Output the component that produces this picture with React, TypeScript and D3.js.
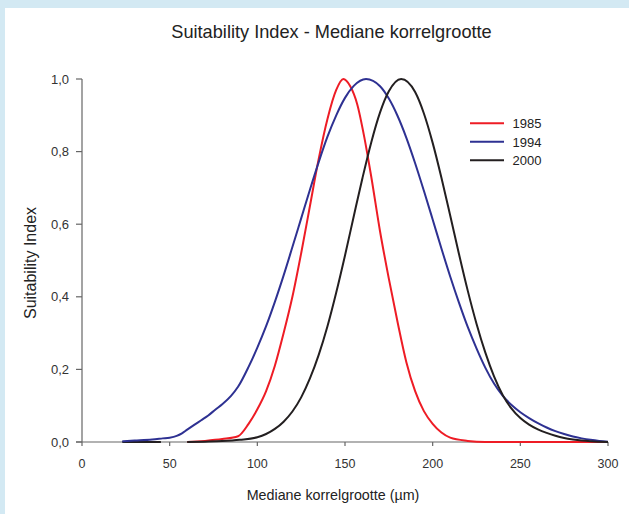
import React from "react";
import * as d3 from "d3";

const W = 629;
const H = 514;

const xTicks = [0, 50, 100, 150, 200, 250, 300];
const yTicks = [0, 0.2, 0.4, 0.6, 0.8, 1.0];
const yTickLabels = ["0,0", "0,2", "0,4", "0,6", "0,8", "1,0"];

// 1985
const x1985 = [60, 70, 80, 89, 95, 100, 105, 110, 115, 120, 125, 130, 135, 140, 145, 149, 153, 157, 161, 165, 170, 175, 180, 185, 190, 195, 200, 205, 210, 220, 230, 300];
const y1985 = [0, 0.003, 0.008, 0.016, 0.05, 0.09, 0.14, 0.21, 0.3, 0.4, 0.52, 0.65, 0.78, 0.89, 0.97, 1.0, 0.98, 0.93, 0.84, 0.73, 0.58, 0.45, 0.33, 0.22, 0.14, 0.085, 0.05, 0.026, 0.012, 0.003, 0, 0];

// 1994
const x1994 = [23, 30, 40, 46, 50, 54, 57, 60, 64, 68, 72, 76, 80, 85, 89, 95, 100, 105, 110, 115, 120, 125, 130, 135, 140, 145, 150, 155, 162, 170, 175, 180, 185, 190, 195, 200, 205, 210, 215, 220, 225, 230, 235, 240, 245, 250, 255, 260, 265, 270, 275, 280, 285, 290, 295, 300];
const y1994 = [0.002, 0.004, 0.007, 0.01, 0.012, 0.017, 0.024, 0.034, 0.047, 0.06, 0.073, 0.089, 0.104, 0.127, 0.152, 0.207, 0.26, 0.319, 0.386, 0.459, 0.537, 0.616, 0.695, 0.771, 0.841, 0.9, 0.948, 0.981, 1.0, 0.98, 0.946, 0.898, 0.838, 0.768, 0.692, 0.613, 0.533, 0.456, 0.384, 0.317, 0.258, 0.205, 0.161, 0.127, 0.102, 0.082, 0.066, 0.052, 0.04, 0.03, 0.022, 0.015, 0.01, 0.006, 0.003, 0.001];

// 2000
const x2000 = [60, 70, 80, 90, 100, 105, 110, 115, 120, 125, 130, 135, 140, 145, 150, 155, 160, 165, 170, 175, 182, 190, 195, 200, 205, 210, 215, 220, 225, 230, 235, 240, 245, 250, 255, 260, 265, 270, 275, 280, 285, 290, 300];
const y2000 = [0, 0.001, 0.0025, 0.006, 0.013, 0.022, 0.036, 0.056, 0.084, 0.123, 0.175, 0.24, 0.319, 0.412, 0.514, 0.622, 0.728, 0.826, 0.908, 0.966, 1.0, 0.964, 0.905, 0.824, 0.728, 0.624, 0.518, 0.417, 0.326, 0.247, 0.181, 0.129, 0.092, 0.066, 0.048, 0.035, 0.025, 0.017, 0.011, 0.007, 0.004, 0.002, 0];
const x2000Base = [23, 45];
const y2000Base = [0, 0];

const seriesNames = ["1985", "1994", "2000"];
const seriesColors = ["#ee1c25", "#2e3192", "#231f20"];

export default function App() {
  const x = d3.scaleLinear().domain([0, 300]).range([82, 608]);
  const y = d3.scaleLinear().domain([0, 1]).range([442, 79]);
  const line = d3
    .line<[number, number]>()
    .x((d) => x(d[0]))
    .y((d) => y(d[1]))
    .curve(d3.curveMonotoneX);
  const zip = (xs: number[], ys: number[]) => xs.map((v, i) => [v, ys[i]] as [number, number]);
  const series = [zip(x1985, y1985), zip(x1994, y1994), zip(x2000, y2000)];
  const font = "Liberation Sans, Arial, sans-serif";
  return (
    <svg width={W} height={H} style={{ position: "absolute", left: 0, top: 0 }} fontFamily={font}>
      <rect x={0} y={0} width={W} height={H} fill="#d3e9f3" />
      <rect x={5} y={8} width={W - 5} height={H - 8} fill="#ffffff" />
      <text x={331.5} y={37.5} textAnchor="middle" fontSize={18.2} fill="#222">
        Suitability Index - Mediane korrelgrootte
      </text>
      {/* axes */}
      <line x1={76} x2={x(300)} y1={y(0)} y2={y(0)} stroke="#666" strokeWidth={1.2} />
      <line x1={x(0)} x2={x(0)} y1={y(1)} y2={y(0)} stroke="#666" strokeWidth={1.2} />
      {yTicks.map((t, i) => (
        <g key={"y" + i}>
          <line x1={76} x2={x(0)} y1={y(t)} y2={y(t)} stroke="#666" strokeWidth={1.2} />
          <text x={69} y={y(t) + 4.5} textAnchor="end" fontSize={13} fill="#333">
            {yTickLabels[i]}
          </text>
        </g>
      ))}
      {xTicks.map((t, i) => (
        <g key={"x" + i}>
          <line x1={x(t)} x2={x(t)} y1={y(0)} y2={y(0) + 4} stroke="#666" strokeWidth={1.2} />
          <text x={x(t)} y={468} textAnchor="middle" fontSize={12.5} fill="#333">
            {t}
          </text>
        </g>
      ))}
      <text x={333} y={500} textAnchor="middle" fontSize={14.3} fill="#222">
        Mediane korrelgrootte (µm)
      </text>
      <text transform={`translate(35.5,263) rotate(-90)`} textAnchor="middle" fontSize={16} fill="#222">
        Suitability Index
      </text>
      {/* curves */}
      <path d={line(zip(x2000Base, y2000Base)) || ""} fill="none" stroke={seriesColors[2]} strokeWidth={2} />
      {series.map((s, i) => (
        <path key={i} d={line(s) || ""} fill="none" stroke={seriesColors[i]} strokeWidth={2} />
      ))}
      {/* legend */}
      {seriesNames.map((n, i) => (
        <g key={n}>
          <line x1={470} x2={504} y1={123.3 + i * 18.5} y2={123.3 + i * 18.5} stroke={seriesColors[i]} strokeWidth={2} />
          <text x={512.5} y={128 + i * 18.5} fontSize={13} fill="#222">
            {n}
          </text>
        </g>
      ))}
    </svg>
  );
}
